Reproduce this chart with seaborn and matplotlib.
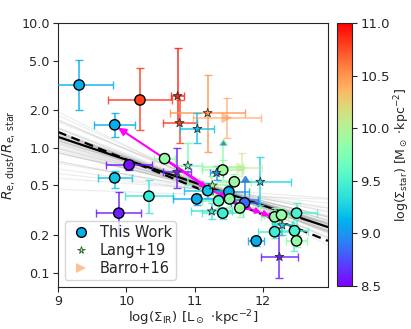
import numpy as np
import pandas as pd
import matplotlib
matplotlib.use("Agg")
import matplotlib.pyplot as plt
import seaborn as sns
from matplotlib.lines import Line2D

# ---------------- data ----------------
# This Work
tw_x = [9.31, 10.20, 9.83, 10.04, 9.83, 9.89, 10.33, 11.03, 10.56, 11.41, 11.58, 11.19, 11.50,
        11.35, 11.51, 11.73, 11.66, 11.41, 12.17, 12.27, 12.49, 12.17, 12.46, 12.49, 11.90]
tw_y = [3.19, 2.42, 1.53, 0.73, 0.575, 0.30, 0.41, 0.39, 0.82, 0.665, 0.535, 0.455, 0.445,
        0.377, 0.39, 0.363, 0.33, 0.30, 0.28, 0.29, 0.30, 0.213, 0.217, 0.18, 0.18]
tw_xerr = [0.5, 0.47, 0.3, 0.33, 0.25, 0.33, 0.35, 0.35, 0.15, 0.3, 0.25, 0.35, 0.3,
           0.25, 0.2, 0.2, 0.3, 0.3, 0.2, 0.25, 0.3, 0.25, 0.2, 0.15, 0.12]
tw_ylo = [2.0, 1.4, 1.22, 0.66, 0.48, 0.2, 0.3, 0.35, 0.75, 0.55, 0.45, 0.4, 0.38,
          0.33, 0.3, 0.33, 0.28, 0.27, 0.25, 0.26, 0.22, 0.19, 0.15, 0.16, 0.165]
tw_yhi = [5.1, 4.4, 1.92, 0.8, 0.65, 0.44, 0.55, 0.43, 0.9, 0.8, 0.62, 0.52, 0.5,
          0.43, 0.48, 0.4, 0.38, 0.33, 0.33, 0.33, 0.36, 0.25, 0.3, 0.2, 0.195]
tw_c = [9.1, 10.8, 9.1, 8.55, 9.2, 8.6, 9.4, 9.1, 9.85, 9.9, 9.9, 9.2, 9.1,
        9.6, 9.85, 8.85, 9.9, 9.45, 9.85, 9.85, 9.5, 9.45, 9.5, 9.85, 9.1]

# Lang+19
lg_x = [10.75, 10.78, 11.19, 11.04, 10.90, 10.74, 11.32, 11.96, 11.25, 12.24, 12.28, 11.26]
lg_y = [2.6, 1.58, 1.9, 1.42, 0.72, 0.64, 0.63, 0.535, 0.31, 0.134, 0.24, 0.5]
lg_xerr = [0.1, 0.25, 0.55, 0.25, 0.2, 0.2, 0.1, 0.45, 0.3, 0.27, 0.15, 0.2]
lg_ylo = [1.6, 1.1, 0.93, 1.1, 0.5, 0.48, 0.55, 0.35, 0.27, 0.09, 0.2, 0.42]
lg_yhi = [6.3, 2.4, 3.8, 1.9, 1.1, 1.0, 0.72, 0.85, 0.36, 0.2, 0.3, 0.6]
lg_c = [10.9, 10.8, 10.5, 9.2, 9.7, 8.6, 9.0, 9.3, 9.4, 8.6, 9.3, 9.9]

# Barro+16
br_x = [11.47, 11.69]
br_y = [1.74, 0.69]
br_xerr = [0.5, 0.3]
br_ylo = [1.2, 0.6]
br_yhi = [2.5, 0.91]
br_c = [10.5, 10.1]
# Barro+16 lower limits
bl_x = [11.41, 11.73]
bl_y = [0.705, 0.385]
bl_top = [1.06, 0.535]
bl_xerr = [0.3, 0.2]
bl_c = [9.85, 8.9]

# fits (log y = a + b (x - x0))
fit_x = [9.0, 12.95]
best_a, best_b, best_x0 = 0.088, -0.183, 9.0
alt_a, alt_b, alt_x0 = 0.128, -0.221, 9.0
gl_pivot_x = 11.4
gl_slope = [-0.27, -0.25, -0.24, -0.23, -0.22, -0.21, -0.21, -0.20, -0.20, -0.19, -0.19, -0.19,
            -0.18, -0.18, -0.18, -0.18, -0.17, -0.17, -0.17, -0.16, -0.16, -0.16, -0.15, -0.15,
            -0.14, -0.14, -0.13, -0.12, -0.11, -0.10, -0.09, -0.08, -0.06, -0.04, -0.02, -0.22,
            -0.20, -0.19, -0.17, -0.15, -0.13, -0.185, -0.175, -0.195, -0.165, -0.205]
gl_pivot = [-0.36, -0.34, -0.35, -0.33, -0.37, -0.35, -0.34, -0.36, -0.35, -0.33, -0.37, -0.35,
            -0.34, -0.36, -0.35, -0.33, -0.37, -0.35, -0.34, -0.36, -0.35, -0.33, -0.37, -0.35,
            -0.34, -0.36, -0.35, -0.33, -0.37, -0.35, -0.34, -0.36, -0.35, -0.34, -0.38, -0.32,
            -0.36, -0.34, -0.35, -0.36, -0.35, -0.34, -0.36, -0.35, -0.35, -0.36]

# magenta track
trk_x = [10.635, 11.175, 11.467, 11.847, 11.978, 12.095, 12.18]
trk_y = [0.759, 0.479, 0.398, 0.319, 0.302, 0.286, 0.276]
arr_from = (11.2, 0.48)
arr_to = (9.88, 1.45)

yticks = [0.1, 0.2, 0.5, 1.0, 2.0, 5.0, 10.0]
ytick_labels = ["0.1", "0.2", "0.5", "1.0", "2.0", "5.0", "10.0"]
xticks = [9, 10, 11, 12]
cb_ticks = [8.5, 9.0, 9.5, 10.0, 10.5, 11.0]

# ---------------- style ----------------
sns.set_style("ticks")
plt.rcParams["font.family"] = ["DejaVu Sans"]
plt.rcParams["mathtext.fontset"] = "dejavusans"

cmap = plt.get_cmap("rainbow")
norm = matplotlib.colors.Normalize(vmin=8.5, vmax=11.0)

fig = plt.figure(figsize=(4.11, 3.29), dpi=100)
ax = fig.add_axes([0.141, 0.128, 0.657, 0.802])
cax = fig.add_axes([0.820, 0.131, 0.036, 0.799])

# gray fit samples
fx = np.array(fit_x)
for b, p in zip(gl_slope, gl_pivot):
    ax.plot(fx, 10 ** (p + b * (fx - gl_pivot_x)), color="gray", alpha=0.15, lw=0.8, zorder=1)
ax.plot(fx, 10 ** (best_a + best_b * (fx - best_x0)), color="black", lw=1.6, zorder=2)
ax.plot(fx, 10 ** (alt_a + alt_b * (fx - alt_x0)), color="black", lw=1.6, ls=(0, (4, 2.5)), zorder=2)

def ebars(xs, ys, xe, ylo, yhi, cs, alpha=0.85):
    for x, y, e, lo, hi, c in zip(xs, ys, xe, ylo, yhi, cs):
        col = cmap(norm(c))
        ax.errorbar([x], [y], xerr=[e], yerr=[[y - lo], [hi - y]], fmt="none",
                    ecolor=col, elinewidth=1.2, capsize=3, capthick=1.0, alpha=alpha, zorder=3)

ebars(tw_x, tw_y, tw_xerr, tw_ylo, tw_yhi, tw_c)
ebars(lg_x, lg_y, lg_xerr, lg_ylo, lg_yhi, lg_c)
ebars(br_x, br_y, br_xerr, br_ylo, br_yhi, br_c, alpha=0.6)
for x, y, t, e, c in zip(bl_x, bl_y, bl_top, bl_xerr, bl_c):
    col = cmap(norm(c))
    ax.errorbar([x], [y], xerr=[e], yerr=[[0], [t - y]], lolims=[True], fmt="none",
                ecolor=col, elinewidth=1.2, capsize=3, alpha=0.85, zorder=3)

# magenta track
for i in range(len(trk_x) - 1):
    ax.annotate("", xy=(trk_x[i + 1], trk_y[i + 1]), xytext=(trk_x[i], trk_y[i]),
                arrowprops=dict(arrowstyle="-|>", color="magenta", lw=1.5, mutation_scale=8,
                                shrinkA=0, shrinkB=0), zorder=4)
ax.annotate("", xy=arr_to, xytext=arr_from,
            arrowprops=dict(arrowstyle="-|>", color="magenta", lw=1.5, mutation_scale=11,
                            shrinkA=0, shrinkB=0), zorder=4)

# markers
df_tw = pd.DataFrame({"x": tw_x, "y": tw_y, "c": tw_c})
sns.scatterplot(data=df_tw, x="x", y="y", hue="c", palette="rainbow", hue_norm=norm,
                s=55, edgecolor="black", linewidth=1.0, legend=False, ax=ax, zorder=5)
df_lg = pd.DataFrame({"x": lg_x, "y": lg_y, "c": lg_c})
sns.scatterplot(data=df_lg, x="x", y="y", hue="c", palette="rainbow", hue_norm=norm,
                marker="*", s=45, edgecolor="#333333", linewidth=0.6, legend=False, ax=ax, zorder=5)
df_br = pd.DataFrame({"x": br_x, "y": br_y, "c": br_c})
sns.scatterplot(data=df_br, x="x", y="y", hue="c", palette="rainbow", hue_norm=norm,
                marker=">", s=60, linewidth=0, alpha=0.6, legend=False, ax=ax, zorder=5)

ax.set_yscale("log")
ax.set_xlim(9, 12.95)
ax.set_ylim(0.077, 10)
ax.set_yticks(yticks, ytick_labels)
ax.yaxis.set_minor_locator(matplotlib.ticker.NullLocator())
ax.set_xticks(xticks)
ax.tick_params(labelsize=9.2, length=3.5, width=0.8, pad=2.5)
ax.set_xlabel(r"log($\Sigma_{\rm IR}$) [L$_\odot$ $\cdot$kpc$^{-2}$]", fontsize=9.6, labelpad=0)
ax.set_ylabel(r"$R_{\rm e,\,dust}/R_{\rm e,\,star}$", fontsize=9.8, labelpad=3)
for s in ax.spines.values():
    s.set_linewidth(0.8)

handles = [
    Line2D([], [], ls="none", marker="o", markersize=7, markerfacecolor=cmap(norm(9.1)),
           markeredgecolor="black", markeredgewidth=1.0),
    Line2D([], [], ls="none", marker="*", markersize=5.5, markerfacecolor=cmap(norm(9.9)),
           markeredgecolor="#2a5a2a", markeredgewidth=0.6),
    Line2D([], [], ls="none", marker=">", markersize=7, markerfacecolor=cmap(norm(10.5)),
           markeredgewidth=0, alpha=0.6),
]
ax.legend(handles, ["This Work", "Lang+19", "Barro+16"], loc="lower left", fontsize=10.5,
          handletextpad=0.5, handlelength=1.6, borderpad=0.3, labelspacing=0.2,
          borderaxespad=0.45, frameon=True)

sm = matplotlib.cm.ScalarMappable(norm=norm, cmap=cmap)
cb = fig.colorbar(sm, cax=cax)
cb.set_ticks(cb_ticks)
cb.ax.tick_params(labelsize=9.5, length=3.5, width=0.8, pad=2.5)
cb.set_label(r"log($\Sigma_{\rm star}$) [M$_\odot$ $\cdot$kpc$^{-2}$]", fontsize=9, labelpad=2)
cb.outline.set_linewidth(0.8)

fig.savefig("out.png", dpi=100)
